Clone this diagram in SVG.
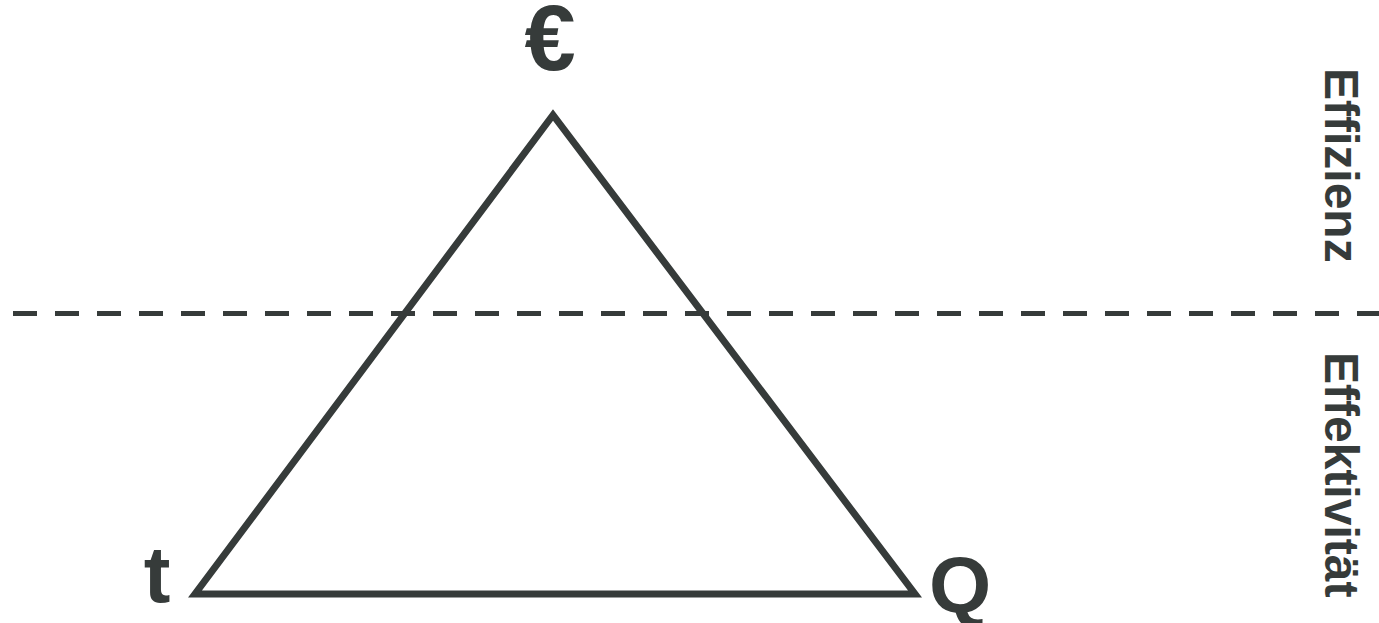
<svg xmlns="http://www.w3.org/2000/svg" width="1379" height="623" viewBox="0 0 1379 623">
<style>
.lbl{font-family:"Liberation Sans",Arial,sans-serif;font-weight:bold;fill:#363b3a}
.side{font-family:"Liberation Sans",Arial,sans-serif;font-weight:bold;fill:#363b3a;font-size:48px}
.edge{stroke:#363b3a;fill:none}
</style>
<rect width="1379" height="623" fill="#ffffff"/>
<g id="connectors">
<line class="edge" x1="13" y1="313.5" x2="1379" y2="313.5" stroke-width="5" stroke-dasharray="24 18"/>
</g>
<g id="triangle">
<polygon class="edge" points="553,115 195,594 915,594" stroke-width="7" stroke-linejoin="miter"/>
</g>
<g id="euro"><text class="lbl" x="550" y="70" font-size="92" text-anchor="middle">€</text></g>
<g id="t"><text class="lbl" x="157" y="602" font-size="80" text-anchor="middle">t</text></g>
<g id="q"><text class="lbl" x="960" y="612" font-size="80" text-anchor="middle">Q</text></g>
<g id="effizienz"><text class="side" transform="translate(1325,68) rotate(90)">Effizienz</text></g>
<g id="effektivitaet"><text class="side" transform="translate(1325,352) rotate(90)">Effektivität</text></g>
</svg>
